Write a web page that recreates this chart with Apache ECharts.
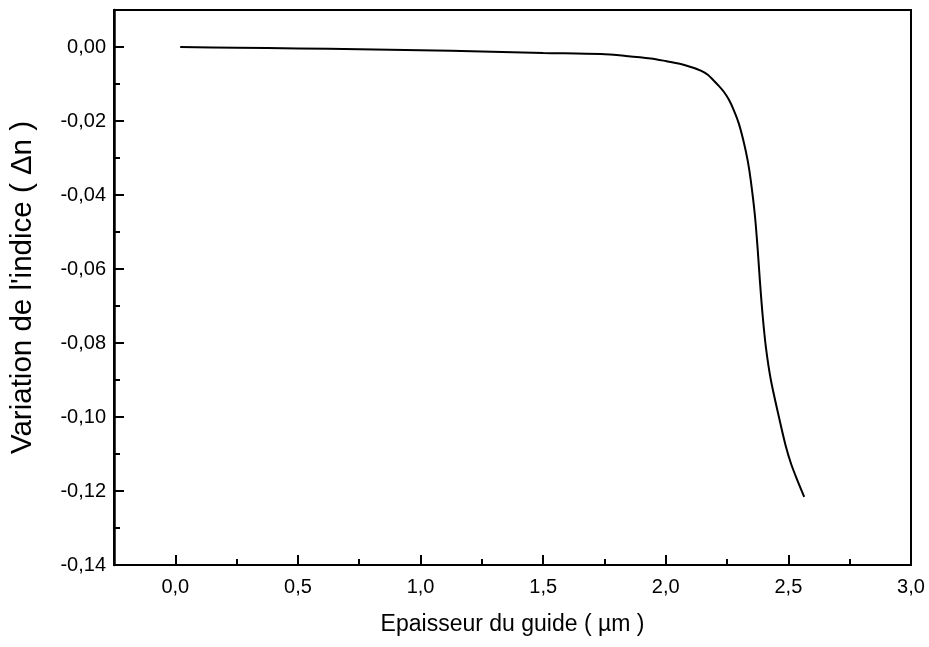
<!DOCTYPE html>
<html>
<head>
<meta charset="utf-8">
<script src="https://cdn.jsdelivr.net/npm/echarts@6/dist/echarts.min.js"></script>
<style>
html,body{margin:0;padding:0;background:#fff;}
#chart{width:929px;height:647px;}
</style>
</head>
<body>
<div id="chart"></div>
<script>
// Data
var thickness = [0.02, 0.25, 0.50, 0.75, 1.00, 1.25, 1.50, 1.7347, 1.8367, 1.9388, 2.0000, 2.0612, 2.1020, 2.1429, 2.1714, 2.1959, 2.2163, 2.2367, 2.2571, 2.2776, 2.2980, 2.3184, 2.3347, 2.3469, 2.3633, 2.3743, 2.3837, 2.3947, 2.4082, 2.4286, 2.4584, 2.4898, 2.5102, 2.5347, 2.5645];
var deltaN    = [0.0000, -0.0002, -0.0004, -0.0006, -0.0009, -0.0012, -0.0016, -0.0019, -0.0024, -0.0031, -0.0038, -0.0046, -0.0054, -0.0064, -0.0075, -0.0091, -0.0105, -0.0121, -0.0142, -0.0171, -0.0207, -0.0258, -0.0309, -0.0362, -0.0454, -0.0542, -0.0631, -0.0723, -0.0811, -0.0900, -0.0991, -0.1080, -0.1125, -0.1168, -0.1216];

var xMajorTicks = [0, 0.5, 1.0, 1.5, 2.0, 2.5, 3.0];
var xMinorTicks = [0.25, 0.75, 1.25, 1.75, 2.25, 2.75];
var yMajorTicks = [-0.14, -0.12, -0.10, -0.08, -0.06, -0.04, -0.02, 0];
var yMinorTicks = [-0.13, -0.11, -0.09, -0.07, -0.05, -0.03, -0.01];

var xTitle = 'Epaisseur du guide ( \u00b5m )';
var yTitle = "Variation de l'indice ( \u0394n )";

var FONT = '"Liberation Sans", Arial, Helvetica, sans-serif';

var seriesData = thickness.map(function (x, i) { return [x, deltaN[i]]; });

function fmt(d) {
  return function (v) { return v.toFixed(d).replace('.', ','); };
}

var chart = echarts.init(document.getElementById('chart'), null, {renderer: 'canvas'});
chart.setOption({
  animation: false,
  backgroundColor: '#fff',
  grid: {
    left: 114, right: 18, top: 10, bottom: 82,
    show: true, borderColor: '#000', borderWidth: 2, backgroundColor: 'transparent'
  },
  xAxis: [{
    type: 'value', min: -0.25, max: 3.0, interval: 0.25, position: 'bottom',
    name: xTitle, nameLocation: 'middle', nameGap: 48,
    nameTextStyle: {fontFamily: FONT, fontSize: 23, color: '#000'},
    axisLine: {show: true, onZero: false, lineStyle: {color: '#000', width: 2}},
    axisTick: {show: true, inside: true, length: 10, customValues: xMajorTicks, lineStyle: {color: '#000', width: 2}},
    axisLabel: {show: true, customValues: xMajorTicks, formatter: fmt(1), margin: 12,
      fontFamily: FONT, fontSize: 20, color: '#000'},
    splitLine: {show: false}
  }, {
    type: 'value', min: -0.25, max: 3.0, interval: 0.25, position: 'bottom', offset: 0,
    axisLine: {show: false, onZero: false},
    axisTick: {show: true, inside: true, length: 6, customValues: xMinorTicks, lineStyle: {color: '#000', width: 2}},
    axisLabel: {show: false},
    splitLine: {show: false}
  }],
  yAxis: [{
    type: 'value', min: -0.14, max: 0.01, interval: 0.01, position: 'left',
    name: yTitle, nameLocation: 'middle', nameGap: 76, nameRotate: 90,
    nameTextStyle: {fontFamily: FONT, fontSize: 29.5, color: '#000'},
    axisLine: {show: true, onZero: false, lineStyle: {color: '#000', width: 2.5}},
    axisTick: {show: true, inside: true, length: 10, customValues: yMajorTicks, lineStyle: {color: '#000', width: 2}},
    axisLabel: {show: true, customValues: yMajorTicks, formatter: fmt(2), margin: 8,
      fontFamily: FONT, fontSize: 20, color: '#000'},
    splitLine: {show: false}
  }, {
    type: 'value', min: -0.14, max: 0.01, interval: 0.01, position: 'left', offset: 0,
    axisLine: {show: false, onZero: false},
    axisTick: {show: true, inside: true, length: 6, customValues: yMinorTicks, lineStyle: {color: '#000', width: 2}},
    axisLabel: {show: false},
    splitLine: {show: false}
  }],
  series: [{
    type: 'line',
    xAxisIndex: 0, yAxisIndex: 0,
    data: seriesData,
    showSymbol: false,
    smooth: 0.3,
    lineStyle: {color: '#000', width: 2},
    clip: true
  }]
});
</script>
</body>
</html>
